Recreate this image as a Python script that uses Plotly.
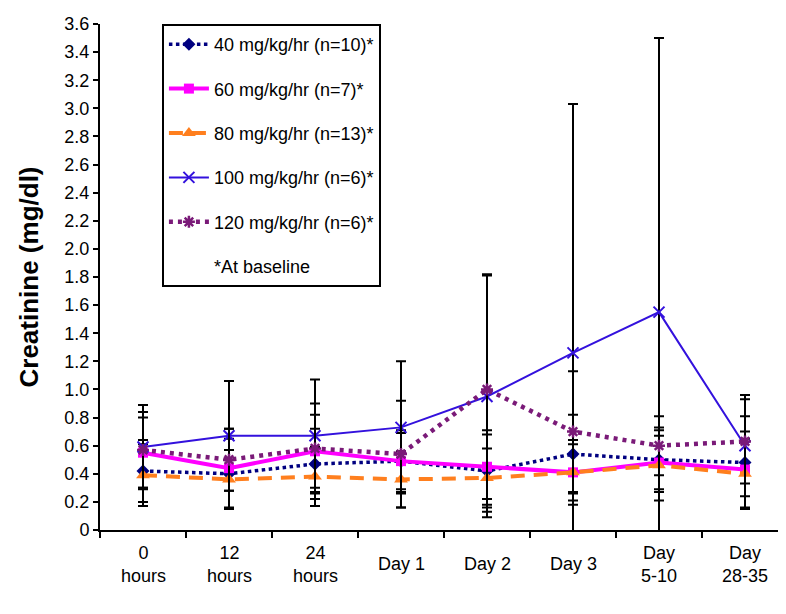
import plotly.graph_objects as go

categories = ["0 hours", "12 hours", "24 hours", "Day 1", "Day 2", "Day 3", "Day 5-10", "Day 28-35"]
category_labels = ["0<br>hours", "12<br>hours", "24<br>hours", "Day 1", "Day 2", "Day 3", "Day<br>5-10", "Day<br>28-35"]

series_names = ["40 mg/kg/hr (n=10)*", "60 mg/kg/hr (n=7)*", "80 mg/kg/hr (n=13)*",
                "100 mg/kg/hr (n=6)*", "120 mg/kg/hr (n=6)*"]

mean_40 = [0.42, 0.40, 0.47, 0.49, 0.42, 0.54, 0.50, 0.48]
mean_60 = [0.55, 0.44, 0.56, 0.49, 0.45, 0.41, 0.48, 0.43]
mean_80 = [0.39, 0.36, 0.38, 0.36, 0.37, 0.41, 0.46, 0.40]
mean_100 = [0.59, 0.67, 0.67, 0.73, 0.95, 1.26, 1.55, 0.60]
mean_120 = [0.57, 0.50, 0.58, 0.54, 1.00, 0.70, 0.60, 0.63]

sd_40 = [0.22, 0.25, 0.25, 0.22, 0.29, 0.28, 0.23, 0.33]
sd_60 = [0.25, 0.28, 0.26, 0.20, 0.23, 0.20, 0.19, 0.27]
sd_80 = [0.22, 0.21, 0.21, 0.20, 0.21, 0.23, 0.25, 0.25]
sd_100 = [0.30, 0.39, 0.40, 0.47, 0.86, 1.77, 1.95, 0.36]
sd_120 = [0.27, 0.22, 0.32, 0.38, 0.82, 0.43, 0.21, 0.30]

y_ticks = [0, 0.2, 0.4, 0.6, 0.8, 1.0, 1.2, 1.4, 1.6, 1.8, 2.0, 2.2, 2.4, 2.6, 2.8, 3.0, 3.2, 3.4, 3.6]
y_tick_text = ["0", "0.2", "0.4", "0.6", "0.8", "1.0", "1.2", "1.4", "1.6", "1.8", "2.0",
               "2.2", "2.4", "2.6", "2.8", "3.0", "3.2", "3.4", "3.6"]

FONT = "Liberation Sans, Arial, sans-serif"

styles = [
    dict(color="#000080", width=3.5, dash="dot", symbol="diamond", size=10, mline=0),
    dict(color="#FF00FF", width=4, dash="solid", symbol="square", size=10, mline=0),
    dict(color="#FF7F1E", width=4, dash="14px,9px", symbol="triangle-up", size=12, mline=0),
    dict(color="#3311DD", width=2, dash="solid", symbol="x-thin-open", size=11, mline=2),
    dict(color="#7A1A78", width=4.5, dash="4px,5px", symbol="asterisk-open", size=10, mline=2.5),
]
means = [mean_40, mean_60, mean_80, mean_100, mean_120]
sds = [sd_40, sd_60, sd_80, sd_100, sd_120]

fig = go.Figure()
for i, (name, m, s, st) in enumerate(zip(series_names, means, sds, styles)):
    fig.add_trace(go.Scatter(
        x=categories, y=m, name=name, mode="lines+markers",
        legendgroup=f"g{i}",
        line=dict(color=st["color"], width=st["width"], dash=st["dash"]),
        marker=dict(symbol=st["symbol"], size=st["size"], color=st["color"],
                    line=dict(color=st["color"], width=st["mline"])),
        error_y=dict(type="data", array=s, symmetric=True, color="black",
                     thickness=2, width=5),
    ))

fig.add_trace(go.Scatter(
    x=[None], y=[None], name="*At baseline", mode="lines",
    legendgroup="g5", line=dict(color="rgba(0,0,0,0)", width=1), hoverinfo="skip",
))

for cat, lab in zip(categories, category_labels):
    fig.add_annotation(x=cat, y=-0.0676, xref="x", yref="paper", text=lab,
                       showarrow=False, yanchor="middle", xanchor="center",
                       font=dict(family=FONT, size=18, color="black"))

fig.update_layout(
    width=786, height=614,
    margin=dict(l=92, r=6, t=12, b=92),
    paper_bgcolor="white", plot_bgcolor="white",
    font=dict(family=FONT, size=18, color="black"),
    showlegend=True,
    legend=dict(x=0.09, y=1.0, xanchor="left", yanchor="top",
                bordercolor="black", borderwidth=2, bgcolor="white",
                font=dict(family=FONT, size=18, color="black"),
                tracegroupgap=18, itemwidth=40),
    xaxis=dict(type="category", range=[-0.5, 7.5], showline=True, linecolor="black",
               linewidth=2, ticks="outside", ticklen=6, tickwidth=2, tickcolor="black",
               tickson="boundaries", showticklabels=False, showgrid=False, zeroline=False),
    yaxis=dict(range=[0, 3.6], showline=True, linecolor="black", linewidth=2,
               ticks="outside", ticklen=5, tickwidth=2, tickcolor="black",
               tickvals=y_ticks, ticktext=y_tick_text, showgrid=False, zeroline=False,
               tickfont=dict(family=FONT, size=18, color="black"),
               title=dict(text="<b>Creatinine (mg/dl)</b>", standoff=18,
                          font=dict(family=FONT, size=26, color="black"))),
)

fig.write_html("out.html")
